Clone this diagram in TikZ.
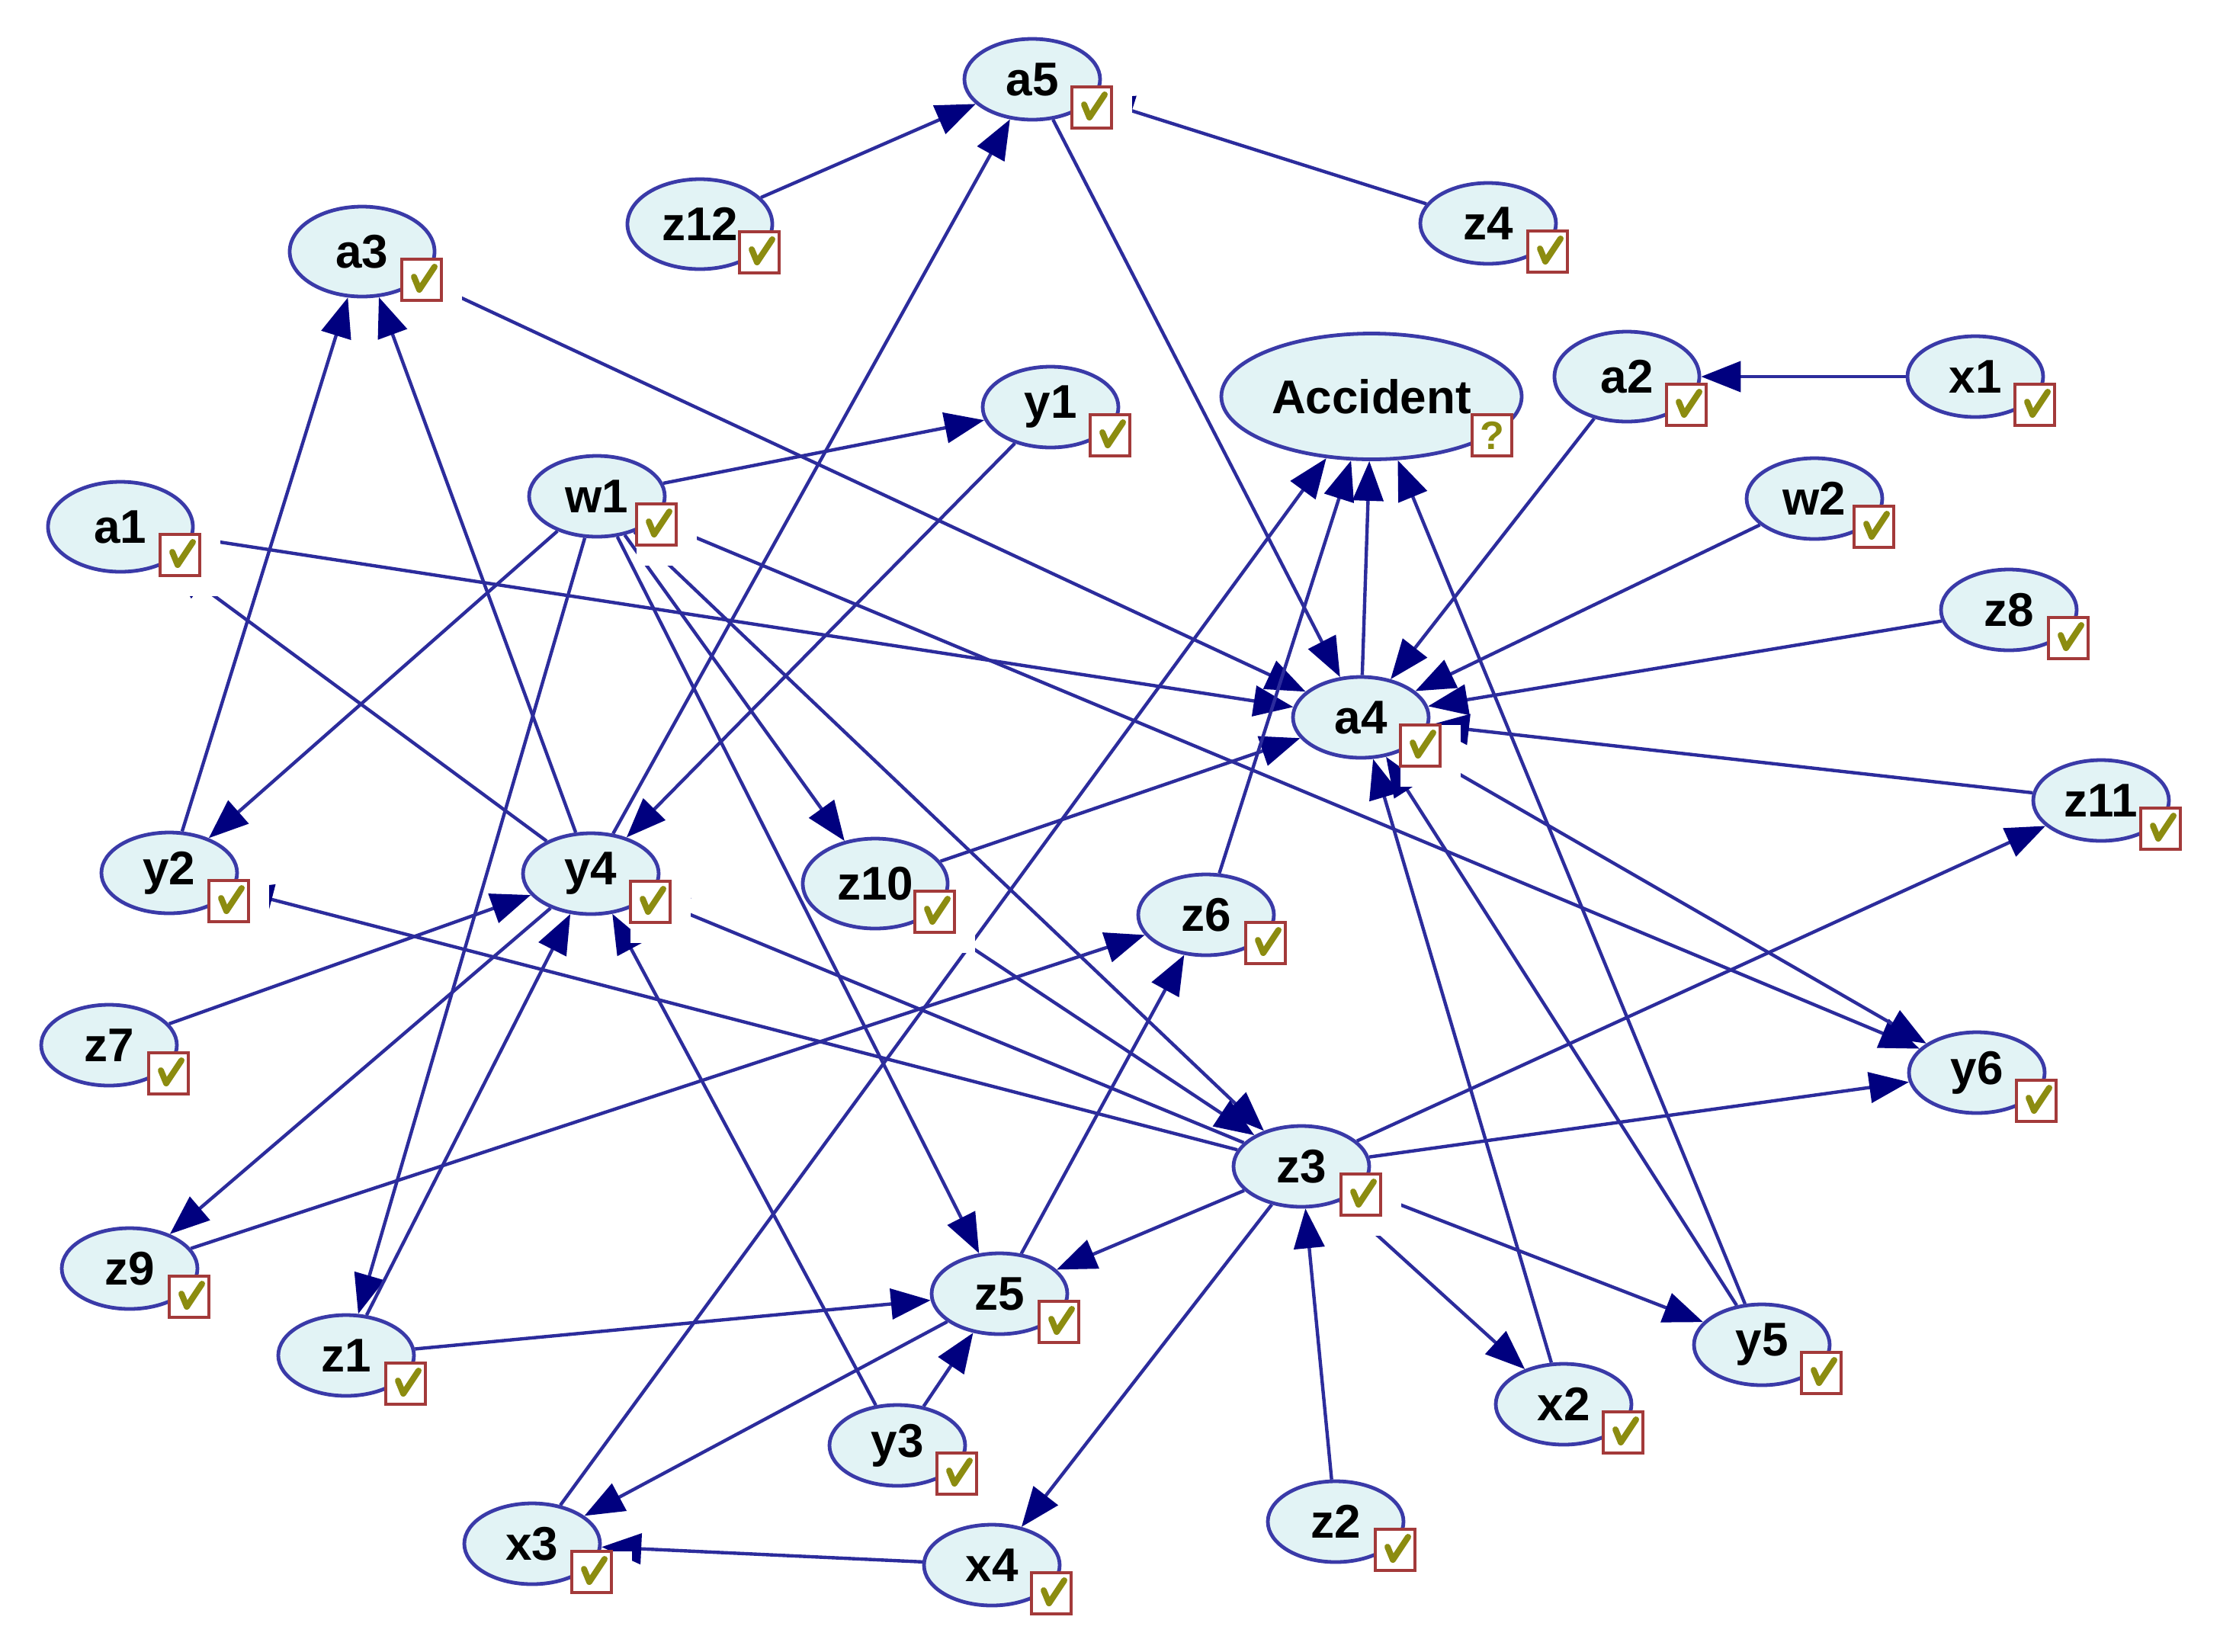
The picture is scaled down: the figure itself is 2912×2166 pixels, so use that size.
\documentclass[tikz,border=0pt]{standalone}
\usepackage{fontspec}
\setmainfont{Liberation Sans}
\usetikzlibrary{shapes.geometric,arrows.meta,calc}
\pgfdeclarelayer{bglayer}
\pgfdeclarelayer{edgelayer}
\pgfdeclarelayer{halolayer}
\pgfdeclarelayer{topedgelayer}
\pgfsetlayers{bglayer,edgelayer,halolayer,topedgelayer,main}
\definecolor{nodefill}{HTML}{E2F3F5}
\definecolor{nodedraw}{HTML}{3A3AA8}
\definecolor{edgecol}{HTML}{2C2C9C}
\definecolor{tipcol}{HTML}{00007F}
\definecolor{boxcol}{HTML}{A33A3A}
\definecolor{chkcol}{HTML}{8C8C10}
\begin{document}
\begin{tikzpicture}[x=0.25pt,y=-0.25pt,
  bn/.style={ellipse, draw=nodedraw, fill=nodefill, line width=1.2pt,
    minimum width=44.5pt, minimum height=26.5pt, inner sep=0pt,
    font=\fontsize{15.5pt}{18pt}\selectfont\bfseries},
  bigbn/.style={bn, minimum width=47.5pt, minimum height=29.5pt},
  accbn/.style={bn, minimum width=98.5pt, minimum height=41.25pt},
  cbx/.style={rectangle, draw=boxcol, fill=white, line width=1pt,
    minimum width=13pt, minimum height=13.5pt, inner sep=0pt},
  chk/.style={draw=chkcol, line width=2pt, line join=round, line cap=round},
  ed/.style={draw=edgecol, line width=1.1pt,
    -{Triangle[length=13pt,width=10pt,color=tipcol]}}]
\begin{pgfonlayer}{bglayer}
\fill[white] (0,0) rectangle (2912,2166);
\end{pgfonlayer}
\useasboundingbox (0,0) rectangle (2912,2166);
% nodes
\node[bn] (a5) at (1354,104) {a5};
\node[bigbn] (z12) at (918,294) {z12};
\node[bn] (z4) at (1952,293) {z4};
\node[bigbn] (a3) at (475,330) {a3};
\node[accbn] (Accident) at (1799,520) {Accident};
\node[bigbn] (a2) at (2134,494) {a2};
\node[bn] (x1) at (2591,494) {x1};
\node[bn] (y1) at (1378,534) {y1};
\node[bn] (w1) at (783,651) {w1};
\node[bigbn] (a1) at (158,691) {a1};
\node[bn] (w2) at (2380,654) {w2};
\node[bn] (z8) at (2635,800) {z8};
\node[bn] (a4) at (1785,941) {a4};
\node[bn] (z11) at (2756,1050) {z11};
\node[bn] (y2) at (222,1145) {y2};
\node[bn] (y4) at (775,1146) {y4};
\node[bigbn] (z10) at (1148,1159) {z10};
\node[bn] (z6) at (1582,1200) {z6};
\node[bn] (z7) at (143,1371) {z7};
\node[bn] (y6) at (2593,1407) {y6};
\node[bn] (z3) at (1707,1530) {z3};
\node[bn] (z9) at (170,1664) {z9};
\node[bn] (z5) at (1311,1697) {z5};
\node[bn] (z1) at (454,1778) {z1};
\node[bn] (y5) at (2311,1764) {y5};
\node[bn] (x2) at (2051,1842) {x2};
\node[bn] (y3) at (1177,1896) {y3};
\node[bn] (z2) at (1752,1996) {z2};
\node[bn] (x3) at (698,2025) {x3};
\node[bn] (x4) at (1301,2053) {x4};
% check boxes
\foreach \n in {a5,z12,z4,a3,a2,x1,y1,w1,a1,w2,z8,a4,z11,y2,y4,z10,z6,z7,y6,z3,z9,z5,z1,y5,x2,y3,z2,x3,x4}{
  \node[cbx] (\n-c) at ($(\n)+(78,37)$) {};
  \path[chk] ($(\n-c)+(-10,-4)$) -- ($(\n-c)+(-3,13)$) -- ($(\n-c)+(17,-17)$);
  \begin{pgfonlayer}{halolayer}
  \fill[white] ($(\n-c)+(-26,-27)$) rectangle ($(\n-c)+(53,54)$);
  \end{pgfonlayer}
}
\node[cbx, text=chkcol, font=\fontsize{13pt}{14pt}\selectfont\bfseries] (Accident-c) at ($(Accident)+(158,51)$) {?};
\begin{pgfonlayer}{halolayer}
\fill[white] ($(Accident-c)+(-26,-27)$) rectangle ($(Accident-c)+(53,54)$);
\end{pgfonlayer}
% edges
\begin{pgfonlayer}{edgelayer}
\foreach \s/\t in {z12/a5, z4/a5, y4/a5, a5/a4, a3/a4, y2/a3, y4/a3, w1/y1, y1/y4, w1/y2,
  w1/z1, w1/z5, w1/z10, w1/z3, w1/y6, a1/a4, y4/a1, w2/a4, a2/a4,
  z8/a4, z11/a4, a4/Accident, z10/a4, z6/Accident, x3/Accident, y5/Accident, a4/y6, z3/y6, z3/z11,
  z3/y5, z3/x2, z3/x4, z3/z5, z2/z3, z3/y2, z3/y4, z7/y4, z9/z6, z5/z6,
  z1/z5, y3/z5, z5/x3, x4/x3, x2/a4, y5/a4, y4/z9, z1/y4, y3/y4, z10/z3}
  \draw[ed] (\s) -- (\t);
\end{pgfonlayer}
\begin{pgfonlayer}{topedgelayer}
\draw[ed] (x1) -- (a2);
\end{pgfonlayer}
\end{tikzpicture}
\end{document}
